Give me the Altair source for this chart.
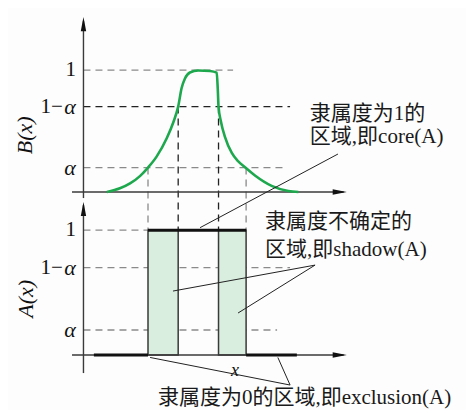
import altair as alt
import pandas as pd

# ---------------- data ----------------
ALPHA = 0.2            # level drawn for alpha
ONE_MINUS_ALPHA = 0.7  # level drawn for 1-alpha

# B(x): fuzzy membership curve (upper panel)
curve_x = [0.90, 1.40, 1.79, 2.17, 2.48, 2.81, 3.20, 3.45, 3.64, 3.77, 3.90, 4.09, 4.41,
           4.86, 5.12, 5.16, 5.19, 5.28, 5.44, 5.70, 5.95, 6.22, 6.59, 7.23, 7.87, 8.26]
curve_b = [0.0, 0.03, 0.07, 0.13, 0.2, 0.29, 0.44, 0.57, 0.7, 0.85, 0.93, 0.98, 0.996,
           0.992, 0.978, 0.849, 0.7, 0.58, 0.45, 0.32, 0.25, 0.2, 0.135, 0.05, 0.008, 0.0]

# A(x): shadowed set (lower panel)
shadow_x0 = [2.48, 5.19]
shadow_x1 = [3.64, 6.25]
core_x0, core_x1 = 2.48, 6.25
excl_x0 = [0.40, 6.25]
excl_x1 = [2.48, 8.20]

# cut points (alpha crossings) for vertical dashed guides
cut_x = [2.48, 3.64, 5.19, 6.25]
cut_level = [ALPHA, ONE_MINUS_ALPHA, ONE_MINUS_ALPHA, ALPHA]

level_vals = [1.0, ONE_MINUS_ALPHA, ALPHA]
top_level_end = [5.75, 7.94, 7.82]
bot_level_end = [2.48, 7.94, 7.44]

# ---------------- layout ----------------
W, H = 458, 402
X_DOMAIN = [-2.9, 14.7]
Y_DOMAIN = [-0.441, 2.78]
TOP = 1.306       # vertical offset of the B(x) panel above the A(x) panel
TS = 0.977        # vertical scale of the B(x) panel

def top(v):
    return TOP + TS * v

xs = alt.Scale(domain=X_DOMAIN, nice=False, zero=False)
ys = alt.Scale(domain=Y_DOMAIN, nice=False, zero=False)
X = lambda f: alt.X(f, type="quantitative", scale=xs, axis=None)
Y = lambda f: alt.Y(f, type="quantitative", scale=ys, axis=None)

GRAY = "#8a8a8a"
DARK = "#3a3a3a"
SERIF = "Liberation Serif"
CJK = "Liberation Serif, Noto Sans CJK SC"

def seg_df(rows):
    return pd.DataFrame(rows, columns=["x", "y", "x2", "y2"])

# dashed horizontal levels
hl_rows = []
for v, e in zip(level_vals, top_level_end):
    hl_rows.append((0, top(v), e, top(v), "top" if v == ONE_MINUS_ALPHA else "g"))
for v, e in zip(level_vals, bot_level_end):
    hl_rows.append((0, v, e, v, "g"))
hl = pd.DataFrame(hl_rows, columns=["x", "y", "x2", "y2", "c"])

# vertical dashed guides
vl = pd.DataFrame({
    "x": cut_x, "x2": cut_x,
    "y": [top(c) for c in cut_level], "y2": [1.0] * 4,
    "c": ["g" if c == ALPHA else "top" for c in cut_level],
})

dash_layer = alt.Chart(pd.concat([hl, vl])).mark_rule(strokeDash=[7, 5], strokeWidth=1.3).encode(
    x=X("x"), y=Y("y"), x2="x2", y2="y2",
    color=alt.Color("c:N", scale=alt.Scale(domain=["g", "top"], range=[GRAY, "#222222"]), legend=None),
)

# axes
axes = seg_df([
    (-0.44, top(0), 10.0, top(0)),
    (0, top(-0.05), 0, top(1.40)),
    (-0.44, 0, 10.0, 0),
    (0, -0.145, 0, 1.20),
])
axis_layer = alt.Chart(axes).mark_rule(color=DARK, strokeWidth=1.4).encode(
    x=X("x"), y=Y("y"), x2="x2", y2="y2")

arrows_up = pd.DataFrame({"x": [0, 0], "y": [top(1.435), 1.226]})
arrows_right = pd.DataFrame({"x": [10.12, 10.12], "y": [top(0), 0]})
up_layer = alt.Chart(arrows_up).mark_point(
    shape="M0,0L-0.38,2L0.38,2Z", filled=True, color="#111", size=200, opacity=1).encode(
    x=X("x"), y=Y("y"))
right_layer = alt.Chart(arrows_right).mark_point(
    shape="M0,0L-2,-0.38L-2,0.38Z", filled=True, color="#111", size=200, opacity=1).encode(
    x=X("x"), y=Y("y"))

# B(x) curve
curve = pd.DataFrame({"x": curve_x, "y": [top(b) for b in curve_b]})
curve_layer = alt.Chart(curve).mark_line(color="#1ea84e", strokeWidth=2.6, interpolate="monotone").encode(
    x=X("x"), y=Y("y"))

# shadow bars
bars = pd.DataFrame({"x": shadow_x0, "x2": shadow_x1, "y": [0, 0], "y2": [1.0, 1.0]})
bar_layer = alt.Chart(bars).mark_rect(fill="#d9eedf", stroke=DARK, strokeWidth=1.5).encode(
    x=X("x"), x2="x2", y=Y("y"), y2="y2")

# thick core / exclusion lines
thick = pd.DataFrame({
    "x": [core_x0] + excl_x0, "x2": [core_x1] + excl_x1,
    "y": [1.0, 0, 0], "y2": [1.0, 0, 0]})
thick_layer = alt.Chart(thick).mark_rule(color="#111", strokeWidth=3).encode(
    x=X("x"), x2="x2", y=Y("y"), y2="y2")

# leader lines of annotations
leaders = seg_df([
    (9.78, 1.61, 4.48, 1.02),
    (8.90, 0.72, 3.44, 0.512),
    (8.90, 0.72, 5.94, 0.336),
    (2.56, -0.02, 7.94, -0.241),
    (7.47, -0.02, 7.94, -0.241),
])
leader_layer = alt.Chart(leaders).mark_rule(color="#222", strokeWidth=1).encode(
    x=X("x"), y=Y("y"), x2="x2", y2="y2")

# tick labels
tick_rows = []
for f in (top, lambda v: v):
    tick_rows.append((-0.29, f(1.0), "1", "normal"))
    tick_rows.append((-0.29, f(ONE_MINUS_ALPHA), "\u03b1", "italic"))
    tick_rows.append((-0.79, f(ONE_MINUS_ALPHA), "1\u2212", "normal"))
    tick_rows.append((-0.29, f(ALPHA), "\u03b1", "italic"))
ticks = pd.DataFrame(tick_rows, columns=["x", "y", "t", "s"])
tick_n = alt.Chart(ticks[ticks.s == "normal"]).mark_text(
    font=SERIF, fontSize=21, align="right", baseline="middle", color="#111").encode(
    x=X("x"), y=Y("y"), text="t")
tick_i = alt.Chart(ticks[ticks.s == "italic"]).mark_text(
    font=SERIF, fontSize=22, fontStyle="italic", align="right", baseline="middle", color="#111").encode(
    x=X("x"), y=Y("y"), text="t")

# axis titles
titles = pd.DataFrame({"x": [-2.25, -2.22], "y": [1.76, 0.45], "t": ["B(x)", "A(x)"]})
title_layer = alt.Chart(titles).mark_text(
    font=SERIF, fontSize=22, fontStyle="italic", angle=270, align="center", baseline="middle", color="#111").encode(
    x=X("x"), y=Y("y"), text="t")

xlab = pd.DataFrame({"x": [5.82], "y": [-0.13], "t": ["x"]})
xlab_layer = alt.Chart(xlab).mark_text(
    font=SERIF, fontSize=18, fontStyle="italic", align="center", baseline="middle", color="#111").encode(
    x=X("x"), y=Y("y"), text="t")

# annotation texts
notes = pd.DataFrame({
    "x": [8.70, 8.70, 6.98, 6.98, 2.86],
    "y": [1.93, 1.746, 1.065, 0.841, -0.345],
    "t": ["隶属度为1的", "区域,即core(A)", "隶属度不确定的", "区域,即shadow(A)", "隶属度为0的区域,即exclusion(A)"],
})
note_layer = alt.Chart(notes).mark_text(
    font=CJK, fontSize=21, align="left", baseline="middle", color="#1a1a1a").encode(
    x=X("x"), y=Y("y"), text="t")

chart = alt.layer(
    dash_layer, bar_layer, axis_layer, up_layer, right_layer, curve_layer,
    thick_layer, leader_layer, tick_n, tick_i, title_layer, xlab_layer, note_layer,
).properties(
    width=W, height=H, padding=0, autosize=alt.AutoSizeParams(type="none"),
    background="#fdfdfd",
).configure_view(stroke=None)

chart.save("out.html", embed_options={"renderer": "svg", "actions": False})
